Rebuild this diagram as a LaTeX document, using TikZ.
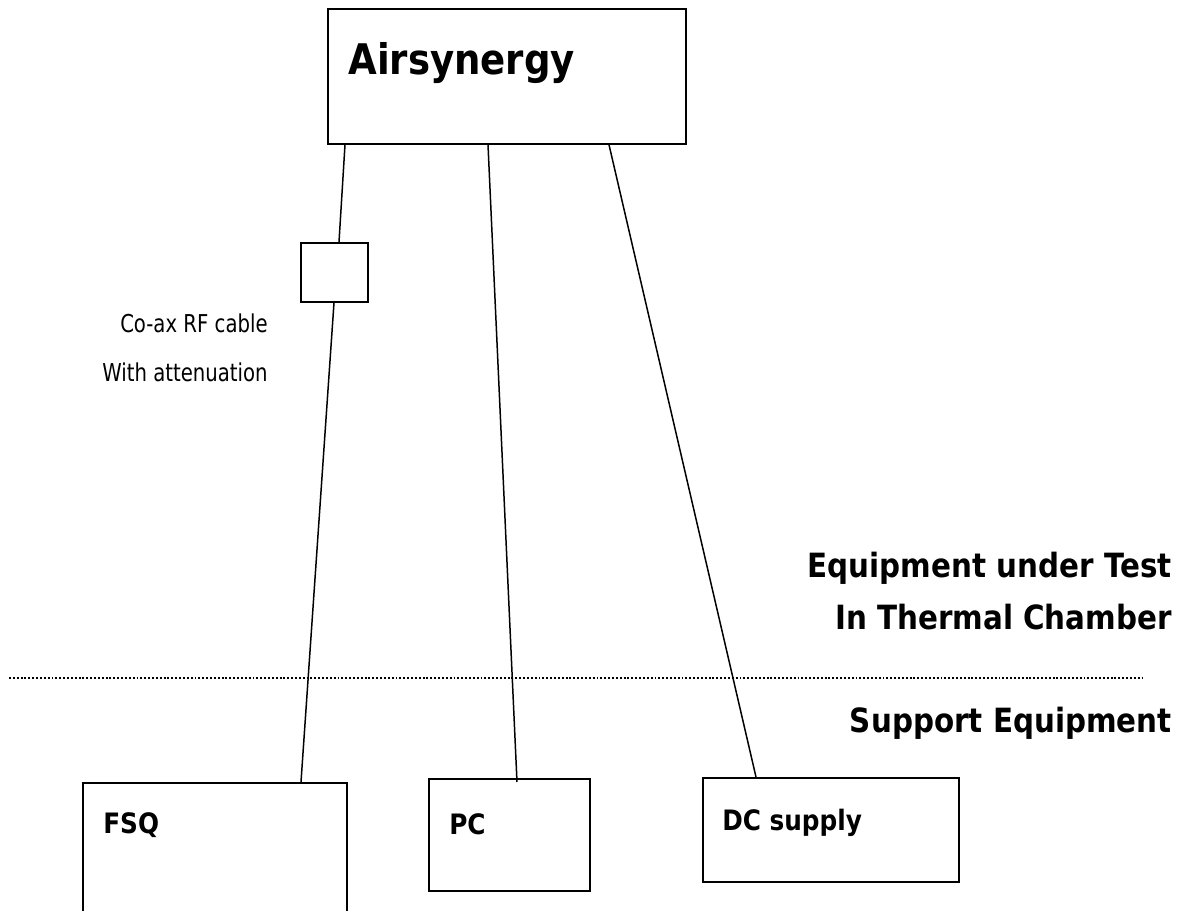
\documentclass[tikz,border=0pt]{standalone}
\usepackage{fontspec}
\setmainfont{DejaVu Sans}[UprightFeatures={FakeStretch=0.8},BoldFeatures={FakeStretch=0.88}]
\usepackage{tikz}
\usetikzlibrary{calc}

\begin{document}
\begin{tikzpicture}[x=0.02cm,y=-0.02cm,
    box/.style={draw,line width=1pt,inner sep=0pt,anchor=north west},
    wire/.style={line width=0.85pt},
    boxtxt/.style={inner sep=0pt,anchor=base west,font=\bfseries\fontsize{16}{19}\selectfont},
    boldtxt/.style={inner sep=0pt,font=\bfseries\fontsize{19}{23}\selectfont,anchor=base east},
    plaintxt/.style={inner sep=0pt,font=\fontsize{14}{17}\selectfont,anchor=base east}]
      \useasboundingbox (0,0) rectangle (1188,911);
      \clip (0,0) rectangle (1188,911);

      % boxes
      \node[box,minimum width=7.16cm,minimum height=2.7cm] (air) at (327,8) {};
      \node[box,minimum width=1.34cm,minimum height=1.18cm] (att) at (300,242) {};
      \node[box,minimum width=5.28cm,minimum height=3.4cm] (fsq) at (82,782) {};
      \node[box,minimum width=3.22cm,minimum height=2.24cm] (pc) at (428,778) {};
      \node[box,minimum width=5.12cm,minimum height=2.08cm] (dc) at (702,777) {};

      \node[inner sep=0pt,anchor=base west,font=\bfseries\fontsize{24}{29}\selectfont] (airtxt) at ($(air.north west)+(21,67)$) {Airsynergy};
      \node[boxtxt] (fsqtxt) at ($(fsq.north west)+(21,52)$) {FSQ};
      \node[boxtxt] (pctxt) at ($(pc.north west)+(21,57)$) {PC};
      \node[boxtxt] (dctxt) at ($(dc.north west)+(20,54)$) {DC supply};

      % wires
      \draw[wire] ($(air.south west)+(18,0)$) -- ($(att.north west)+(39,0)$);
      \draw[wire] ($(att.south west)+(34,0)$) -- ($(fsq.north west)+(219,0)$);
      \draw[wire] ($(air.south west)+(161,0)$) -- ($(pc.north west)+(89,4)$);
      \draw[wire] ($(air.south west)+(282,0)$) -- ($(dc.north west)+(54,0)$);

      \node[plaintxt] (cable) at (268,333) {Co-ax RF cable};
      \node[plaintxt] (atten) at (268,382) {With attenuation};

      % chamber boundary
      \coordinate (bndl) at (9,678);
      \coordinate (bndr) at (1143,678);
      \draw[line width=1pt,dash pattern=on 1.1pt off 1.1pt] (bndl) -- (bndr);

      \node[boldtxt] (eut) at (1172,578) {Equipment under Test};
      \node[boldtxt] (chamber) at (1172,630) {In Thermal Chamber};
      \node[boldtxt] (support) at (1172,733) {Support Equipment};
\end{tikzpicture}
\end{document}
